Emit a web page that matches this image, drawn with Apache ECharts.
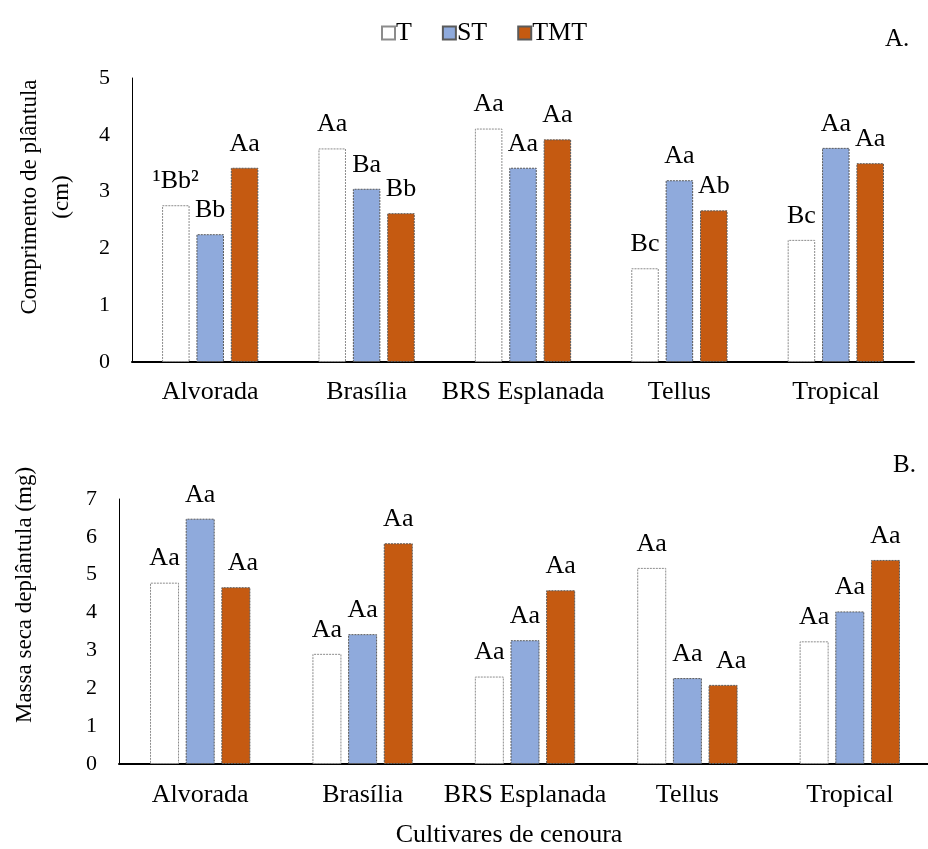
<!DOCTYPE html>
<html>
<head>
<meta charset="utf-8">
<script src="https://cdn.jsdelivr.net/npm/echarts@6/dist/echarts.min.js"></script>
<style>
  html, body { margin: 0; padding: 0; background: #ffffff; }
  #chart { width: 928px; height: 849px; }
</style>
</head>
<body>
<div id="chart"></div>
<script>
// Carrot cultivars on both panels
const cultivars = ['Alvorada', 'Brasília', 'BRS Esplanada', 'Tellus', 'Tropical'];
const treatments = ['T', 'ST', 'TMT'];

// Panel A: seedling length (cm)
const lengthT   = [2.76, 3.76, 4.11, 1.65, 2.15];
const lengthST  = [2.25, 3.05, 3.42, 3.20, 3.77];
const lengthTMT = [3.42, 2.62, 3.92, 2.67, 3.50];
const lengthLettersT   = ['¹Bb²', 'Aa', 'Aa', 'Bc', 'Bc'];
const lengthLettersST  = ['Bb', 'Ba', 'Aa', 'Aa', 'Aa'];
const lengthLettersTMT = ['Aa', 'Bb', 'Aa', 'Ab', 'Aa'];

// Panel B: seedling dry mass (mg)
const massT   = [4.79, 2.91, 2.31, 5.18, 3.24];
const massST  = [6.48, 3.43, 3.27, 2.27, 4.03];
const massTMT = [4.67, 5.83, 4.59, 2.09, 5.39];
const massLettersT   = ['Aa', 'Aa', 'Aa', 'Aa', 'Aa'];
const massLettersST  = ['Aa', 'Aa', 'Aa', 'Aa', 'Aa'];
const massLettersTMT = ['Aa', 'Aa', 'Aa', 'Aa', 'Aa'];

// Axis ticks
const lengthTicks = { min: 0, max: 5, interval: 1 };
const massTicks   = { min: 0, max: 7, interval: 1 };

const FONT = 'Liberation Serif';
const styles = {
  T:   { color: '#ffffff', borderColor: '#8c8c8c' },
  ST:  { color: '#8faadc', borderColor: '#5a5a5a' },
  TMT: { color: '#c55a11', borderColor: '#5a5a5a' }
};
// a few letter labels sit slightly right of their bar
const massTMTLabelShift = [7, 0, 0, 8, 0];

function barSeries(name, values, letters, axisIndex, width, gap, shift) {
  return {
    type: 'bar',
    name: name,
    xAxisIndex: axisIndex,
    yAxisIndex: axisIndex,
    barWidth: width,
    barGap: gap,
    data: values.map((v, i) => ({
      value: v,
      label: { offset: [shift ? shift[i] : 0, 0] }
    })),
    itemStyle: {
      color: styles[name].color,
      borderColor: styles[name].borderColor,
      borderWidth: 1,
      borderType: [2, 1]
    },
    emphasis: { disabled: true },
    label: {
      show: true,
      position: 'top',
      distance: 11,
      fontFamily: FONT,
      fontSize: 26,
      color: '#000',
      formatter: p => letters[p.dataIndex]
    }
  };
}

function categoryAxis(gridIndex, labelMargin) {
  return {
    type: 'category',
    gridIndex: gridIndex,
    data: cultivars,
    axisTick: { show: false },
    axisLine: { lineStyle: { color: '#000', width: 2 } },
    axisLabel: { fontFamily: FONT, fontSize: 26, color: '#000', margin: labelMargin, interval: 0 }
  };
}

function valueAxis(gridIndex, ticks) {
  return {
    type: 'value',
    gridIndex: gridIndex,
    min: ticks.min,
    max: ticks.max,
    interval: ticks.interval,
    splitLine: { show: false },
    axisTick: { show: false },
    axisLine: { show: true, lineStyle: { color: '#000', width: 1 } },
    axisLabel: { fontFamily: FONT, fontSize: 22, color: '#000', margin: 22 }
  };
}

const chart = echarts.init(document.getElementById('chart'), null, { renderer: 'canvas' });

chart.setOption({
  backgroundColor: '#ffffff',
  animation: false,
  legend: {
    data: treatments,
    left: 376,
    top: 15,
    icon: 'rect',
    itemWidth: 13,
    itemHeight: 13,
    itemGap: 30,
    textStyle: { fontFamily: FONT, fontSize: 26, color: '#000', padding: [0, 0, 0, -4] }
  },
  grid: [
    { left: 132, top: 78, width: 782, height: 284, outerBoundsMode: 'none' },
    { left: 119, top: 499, width: 812, height: 265, outerBoundsMode: 'none' }
  ],
  xAxis: [
    categoryAxis(0, 17),
    Object.assign(categoryAxis(1, 18), {
      name: 'Cultivares de cenoura',
      nameLocation: 'middle',
      nameGap: 58,
      nameTextStyle: { fontFamily: FONT, fontSize: 26, color: '#000', padding: [0, 32, 0, 0] }
    })
  ],
  yAxis: [
    valueAxis(0, lengthTicks),
    valueAxis(1, massTicks)
  ],
  series: [
    barSeries('T',   lengthT,   lengthLettersT,   0, 27.5, '25%'),
    barSeries('ST',  lengthST,  lengthLettersST,  0, 27.5, '25%'),
    barSeries('TMT', lengthTMT, lengthLettersTMT, 0, 27.5, '25%'),
    barSeries('T',   massT,   massLettersT,   1, 29, '23%'),
    barSeries('ST',  massST,  massLettersST,  1, 29, '23%'),
    barSeries('TMT', massTMT, massLettersTMT, 1, 29, '23%', massTMTLabelShift)
  ],
  graphic: [
    { type: 'text', left: 885, top: 27, style: { text: 'A.', font: '25px "Liberation Serif"', fill: '#000' } },
    { type: 'text', left: 893, top: 453, style: { text: 'B.', font: '25px "Liberation Serif"', fill: '#000' } },
    {
      type: 'text', x: 46, y: 197, rotation: Math.PI / 2,
      style: {
        text: 'Comprimento de plântula\n(cm)',
        font: '23px "Liberation Serif"', fill: '#000',
        align: 'center', verticalAlign: 'middle', lineHeight: 32
      }
    },
    {
      type: 'text', x: 25, y: 595, rotation: Math.PI / 2,
      style: {
        text: 'Massa seca deplântula (mg)',
        font: '23px "Liberation Serif"', fill: '#000',
        align: 'center', verticalAlign: 'middle'
      }
    }
  ]
});
</script>
</body>
</html>
